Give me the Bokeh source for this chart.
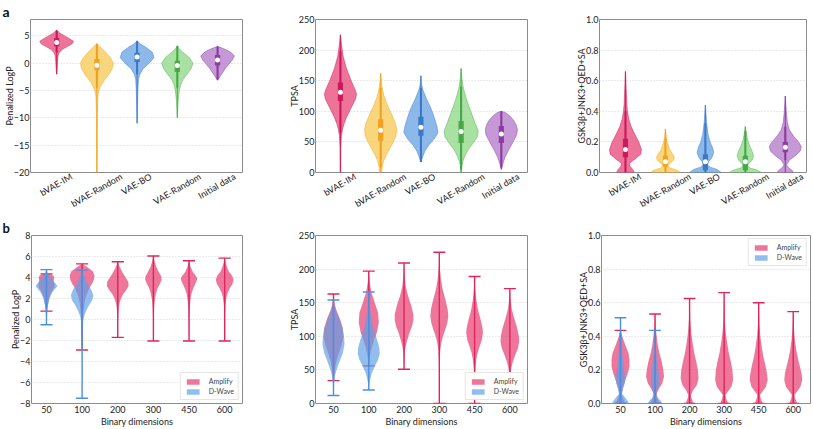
import math
from bokeh.plotting import figure
from bokeh.models import (ColumnDataSource, FixedTicker, Range1d,
                          Legend, LegendItem, NumeralTickFormatter)
from bokeh.layouts import column, row
from bokeh.embed import file_html
from bokeh.resources import INLINE

FONT = "Lato"

# ======================= panel a : five generators =======================
methods = ["bVAE-IM", "bVAE-Random", "VAE-BO", "VAE-Random", "Initial data"]
method_fill = ["#E8507E", "#F8CC5A", "#6FA7E3", "#93D98B", "#B77ECC"]
method_line = ["#D11E5A", "#F2A71E", "#3D7ED0", "#49B04A", "#8E41AA"]
method_box = ["#C8185A", "#F0A020", "#3A77C4", "#45A746", "#8A3A9F"]

# Penalized LogP : violin profile (value levels, half widths in category units)
logp_a_levels = [
    [6.1, 5.5, 5.0, 4.5, 4.0, 3.5, 3.0, 2.5, 2.0, 1.5, 1.0, 0.0, -1.0, -2.0],
    [3.6, 3.0, 2.0, 1.0, 0.0, -1.0, -2.0, -3.0, -4.0, -5.0, -6.0, -8.0, -12.0, -20.0],
    [4.1, 3.5, 3.0, 2.0, 1.0, 0.0, -1.0, -2.0, -3.0, -5.0, -8.0, -11.0],
    [3.2, 2.5, 2.0, 1.0, 0.0, -1.0, -2.0, -3.0, -4.0, -5.0, -7.0, -10.0],
    [3.1, 2.5, 2.0, 1.3, 0.5, 0.0, -1.0, -2.0, -2.7, -3.1],
]
logp_a_widths = [
    [0.0, 0.08, 0.2, 0.32, 0.42, 0.38, 0.25, 0.14, 0.07, 0.04, 0.03, 0.02, 0.015, 0.0],
    [0.0, 0.08, 0.22, 0.34, 0.41, 0.38, 0.3, 0.2, 0.11, 0.05, 0.025, 0.015, 0.01, 0.005],
    [0.0, 0.08, 0.2, 0.38, 0.42, 0.3, 0.15, 0.07, 0.035, 0.02, 0.01, 0.0],
    [0.0, 0.06, 0.14, 0.3, 0.39, 0.34, 0.24, 0.14, 0.08, 0.05, 0.02, 0.0],
    [0.0, 0.2, 0.33, 0.42, 0.36, 0.3, 0.19, 0.1, 0.04, 0.0],
]
logp_a_q1 = [3.1, -1.3, 0.2, -1.6, -0.4]
logp_a_med = [3.8, -0.35, 1.15, -0.4, 0.6]
logp_a_q3 = [4.6, 0.75, 1.9, 0.45, 1.5]
logp_a_wlo = [2.0, -4.5, -2.0, -4.5, -3.0]
logp_a_whi = [5.9, 3.5, 4.0, 3.1, 3.0]
logp_a_ticks = [-20, -15, -10, -5, 0, 5]

# TPSA
tpsa_a_levels = [
    [225, 210, 190, 170, 150, 135, 128, 120, 110, 100, 90, 80, 70, 60, 40, 0],
    [162, 150, 140, 125, 110, 95, 80, 70, 60, 50, 40, 30, 20, 10, 0],
    [158, 145, 135, 120, 105, 90, 75, 65, 55, 45, 35, 25, 17],
    [170, 155, 140, 125, 110, 95, 80, 68, 58, 48, 38, 28, 18, 10, 0],
    [100, 98, 92, 85, 78, 70, 62, 55, 45, 35, 25, 15, 5],
]
tpsa_a_widths = [
    [0, .025, .067, .15, .267, .367, .40, .375, .30, .225, .15, .092, .05, .025, .008, .004],
    [0, .017, .033, .083, .167, .275, .367, .40, .383, .317, .233, .15, .083, .042, .025],
    [0, .017, .05, .142, .25, .333, .40, .425, .333, .20, .10, .042, 0],
    [0, .017, .05, .108, .183, .267, .35, .425, .40, .30, .183, .10, .042, .017, .008],
    [0, .10, .217, .308, .367, .40, .383, .333, .25, .167, .092, .042, 0],
]
tpsa_a_q1 = [117, 52, 60, 48, 48]
tpsa_a_med = [131, 69, 74, 67, 63]
tpsa_a_q3 = [147, 87, 91, 84, 76]
tpsa_a_wlo = [65, 8, 17, 5, 8]
tpsa_a_whi = [198, 138, 138, 140, 100]
tpsa_a_ticks = [0, 50, 100, 150, 200, 250]

# GSK3b+JNK3+QED+SA
score_a_levels = [
    [0.66, 0.55, 0.45, 0.4, 0.35, 0.3, 0.25, 0.2, 0.15, 0.12, 0.09, 0.06, 0.04, 0.02, 0.0],
    [0.285, 0.25, 0.2, 0.15, 0.12, 0.1, 0.08, 0.06, 0.045, 0.03, 0.015, 0.0],
    [0.44, 0.38, 0.32, 0.25, 0.2, 0.16, 0.13, 0.1, 0.07, 0.05, 0.035, 0.02, 0.0],
    [0.3, 0.26, 0.22, 0.18, 0.14, 0.11, 0.08, 0.06, 0.045, 0.03, 0.015, 0.0],
    [0.5, 0.4, 0.33, 0.28, 0.24, 0.2, 0.17, 0.14, 0.11, 0.08, 0.05, 0.03, 0.015, 0.0],
]
score_a_widths = [
    [0, .017, .033, .05, .083, .142, .233, .333, .40, .383, .25, .10, .117, .183, .225],
    [0, .017, .042, .108, .183, .225, .20, .117, .058, .117, .292, .375],
    [0, .017, .033, .067, .117, .183, .208, .167, .083, .05, .125, .292, .40],
    [0, .025, .05, .10, .167, .208, .167, .092, .05, .117, .30, .40],
    [0, .025, .05, .10, .20, .333, .40, .375, .25, .10, .033, .083, .167, .20],
]
score_a_q1 = [0.10, 0.037, 0.015, 0.015, 0.133]
score_a_med = [0.15, 0.071, 0.07, 0.07, 0.165]
score_a_q3 = [0.22, 0.11, 0.12, 0.11, 0.20]
score_a_wlo = [0.0, 0.0, 0.0, 0.0, 0.08]
score_a_whi = [0.40, 0.22, 0.32, 0.27, 0.30]
score_ticks = [0.0, 0.2, 0.4, 0.6, 0.8, 1.0]

# ======================= panel b : binary dimensions =======================
dims = ["50", "100", "200", "300", "450", "600"]
amp_fill, amp_line = "#E8507E", "#E0245E"
dw_fill, dw_line = "#5E9FE6", "#4A90E2"

logp_amp_levels = [
    [4.35, 4.2, 4.0, 3.7, 3.4, 3.1, 2.8, 2.4, 2.0, 1.6, 1.2, 0.8],
    [5.3, 5.0, 4.6, 4.2, 3.8, 3.4, 3.0, 2.5, 2.0, 1.5, 1.0, 0.0, -1.0, -2.0, -2.9],
    [5.5, 5.0, 4.5, 4.0, 3.6, 3.2, 2.8, 2.4, 2.0, 1.5, 1.0, 0.0, -1.7],
    [6.05, 5.5, 5.0, 4.5, 4.1, 3.8, 3.4, 3.0, 2.5, 2.0, 1.5, 1.0, 0.0, -2.05],
    [5.6, 5.0, 4.5, 4.2, 3.9, 3.6, 3.2, 2.8, 2.4, 2.0, 1.5, 1.0, 0.0, -2.05],
    [5.85, 5.2, 4.6, 4.2, 3.8, 3.4, 3.0, 2.6, 2.2, 1.8, 1.2, 0.5, -2.05],
]
logp_amp_widths = [
    [.09, .19, .22, .2, .22, .23, .17, .11, .07, .05, .03, 0],
    [0, .14, .30, .35, .33, .28, .20, .14, .093, .065, .046, .028, .019, .009, 0],
    [0, .056, .13, .22, .296, .305, .24, .148, .093, .046, .028, .009, 0],
    [0, .037, .083, .157, .222, .231, .185, .12, .074, .046, .028, .019, .009, 0],
    [0, .046, .111, .185, .231, .204, .148, .102, .065, .046, .028, .019, .009, 0],
    [0, .046, .111, .204, .25, .222, .148, .093, .056, .037, .019, .009, 0],
]
logp_dw_levels = [
    [4.75, 4.3, 3.8, 3.4, 3.2, 3.0, 2.6, 2.2, 1.8, 1.4, 1.0, 0.5, 0.0, -0.5],
    [4.7, 4.3, 3.8, 3.3, 2.8, 2.3, 1.8, 1.3, 0.8, 0.3, -0.2, -1.0, -2.0, -4.0, -7.5],
]
logp_dw_widths = [
    [0, .056, .167, .26, .305, .26, .167, .11, .074, .046, .028, .019, .009, 0],
    [0, .037, .093, .167, .26, .315, .28, .185, .11, .056, .028, .019, .009, .005, 0],
]
logp_b_ticks = [-8, -6, -4, -2, 0, 2, 4, 6, 8]

tpsa_amp_levels = [
    [163, 150, 140, 125, 112, 100, 88, 75, 62, 50, 40, 34],
    [197, 180, 165, 150, 135, 120, 105, 95, 85, 75, 65, 56],
    [209, 190, 175, 160, 145, 132, 125, 115, 105, 95, 85, 75, 65, 51],
    [225, 200, 185, 170, 155, 140, 130, 120, 110, 100, 90, 80, 60, 40, 0],
    [189, 170, 155, 140, 125, 112, 105, 95, 85, 75, 65, 55, 45, 30, 0],
    [171, 155, 140, 125, 112, 100, 92, 82, 72, 62, 52, 42, 30, 20],
]
tpsa_amp_widths = [
    [0, .028, .076, .19, .265, .284, .237, .152, .076, .038, .019, 0],
    [0, .028, .076, .17, .265, .284, .227, .152, .095, .047, .019, 0],
    [0, .019, .047, .114, .208, .265, .265, .227, .152, .095, .047, .019, .009, 0],
    [0, .019, .047, .095, .17, .237, .256, .227, .17, .104, .057, .028, .009, .005, 0],
    [0, .019, .047, .095, .17, .227, .237, .208, .142, .085, .047, .028, .009, .005, 0],
    [0, .019, .057, .133, .208, .256, .265, .227, .152, .085, .038, .019, .009, 0],
]
tpsa_dw_levels = [
    [154, 140, 125, 110, 98, 88, 75, 62, 50, 40, 30, 20, 12],
    [166, 150, 135, 120, 105, 92, 82, 74, 65, 55, 45, 35, 25, 20],
]
tpsa_dw_widths = [
    [0, .047, .17, .265, .303, .3125, .265, .17, .085, .038, .019, .009, 0],
    [0, .019, .047, .095, .17, .256, .303, .3125, .265, .17, .085, .038, .009, 0],
]
tpsa_b_ticks = [0, 50, 100, 150, 200, 250]

score_amp_levels = [
    [0.435, 0.4, 0.35, 0.3, 0.26, 0.22, 0.18, 0.14, 0.1, 0.07, 0.05, 0.03, 0.0],
    [0.533, 0.45, 0.4, 0.35, 0.3, 0.25, 0.2, 0.16, 0.12, 0.09, 0.06, 0.04, 0.02, 0.0],
    [0.625, 0.5, 0.42, 0.36, 0.3, 0.25, 0.2, 0.15, 0.11, 0.08, 0.05, 0.03, 0.0],
    [0.66, 0.5, 0.42, 0.36, 0.3, 0.25, 0.2, 0.14, 0.1, 0.07, 0.05, 0.03, 0.0],
    [0.6, 0.48, 0.4, 0.34, 0.28, 0.23, 0.18, 0.14, 0.1, 0.07, 0.05, 0.03, 0.0],
    [0.547, 0.45, 0.38, 0.32, 0.27, 0.22, 0.18, 0.14, 0.1, 0.07, 0.05, 0.03, 0.0],
]
score_amp_widths = [
    [0, .048, .135, .23, .26, .26, .21, .144, .077, .048, .038, .077, .135],
    [0, .019, .048, .077, .125, .192, .24, .26, .21, .115, .048, .058, .096, .115],
    [0, .019, .048, .087, .135, .192, .24, .26, .21, .106, .038, .058, .115],
    [0, .019, .048, .087, .135, .192, .24, .26, .21, .106, .038, .058, .115],
    [0, .019, .048, .087, .135, .192, .24, .26, .21, .106, .038, .058, .115],
    [0, .019, .048, .087, .135, .192, .24, .26, .21, .106, .038, .058, .115],
]
score_dw_levels = [
    [0.51, 0.45, 0.4, 0.35, 0.3, 0.25, 0.2, 0.15, 0.12, 0.09, 0.06, 0.04, 0.02, 0.0],
    [0.435, 0.38, 0.32, 0.26, 0.2, 0.15, 0.11, 0.08, 0.05, 0.03, 0.015, 0.0],
]
score_dw_widths = [
    [0, .01, .019, .029, .048, .077, .106, .135, .125, .077, .038, .115, .192, .25],
    [0, .01, .029, .058, .096, .125, .115, .067, .038, .096, .173, .21],
]

ROW_A_H, ROW_B_H = 216, 213
LABEL_PX = 9
ANGLE = math.radians(30)


# ======================= helpers =======================
def style_axis(ax):
    ax.axis_line_color = None
    ax.major_tick_line_color = None
    ax.minor_tick_line_color = None
    ax.major_tick_out = 0
    ax.major_tick_in = 0
    ax.minor_tick_out = 0
    ax.minor_tick_in = 0
    ax.major_label_text_font = FONT
    ax.major_label_text_font_size = f"{LABEL_PX}px"
    ax.major_label_text_color = "#222222"
    ax.axis_label_text_font = FONT
    ax.axis_label_text_font_size = f"{LABEL_PX}px"
    ax.axis_label_text_font_style = "normal"
    ax.axis_label_text_color = "#222222"
    ax.major_label_standoff = 1
    ax.axis_label_standoff = 0


def base_fig(width, height, xr, yr, left, right, top, bottom, ylabel, yticks):
    p = figure(width=width, height=height, output_backend="svg",
               toolbar_location=None, x_range=Range1d(*xr), y_range=Range1d(*yr),
               min_border_left=left, min_border_right=right,
               min_border_top=top, min_border_bottom=bottom)
    p.background_fill_color = "white"
    p.border_fill_color = "white"
    p.outline_line_color = "#8c8c8c"
    p.outline_line_width = 1
    p.xgrid.visible = False
    p.ygrid.grid_line_color = "#d4d4d4"
    p.ygrid.grid_line_dash = "1 2"
    p.ygrid.ticker = FixedTicker(ticks=yticks)
    style_axis(p.xaxis[0])
    style_axis(p.yaxis[0])
    p.yaxis.axis_label_standoff = -4
    p.yaxis.ticker = FixedTicker(ticks=yticks)
    p.yaxis.axis_label = ylabel
    return p


def panel_letter(p, letter, size, offset, standoff):
    p.title.text = letter
    p.title.text_font = FONT
    p.title.text_font_size = size
    p.title.text_font_style = "bold"
    p.title.text_color = "#111111"
    p.title.align = "left"
    p.title.offset = offset
    p.title.standoff = standoff


def text_em(s):
    # rough advance widths (in em) used to centre rotated category labels
    w = 0.0
    for ch in s:
        if ch in "iltI -fj":
            w += 0.25
        elif ch in "mMW":
            w += 0.85
        elif ch.isupper():
            w += 0.65
        else:
            w += 0.52
    return w


def violin_shapes(levels, widths):
    xs, ys = [], []
    for i, (lv, hw) in enumerate(zip(levels, widths)):
        xs.append([i + w for w in hw] + [i - w for w in reversed(hw)])
        ys.append(list(lv) + list(reversed(lv)))
    return xs, ys


def panel_a(p, levels, widths, q1, med, q3, wlo, whi, frame_px):
    xs, ys = violin_shapes(levels, widths)
    src = ColumnDataSource(dict(xs=xs, ys=ys, fill=method_fill, line=method_line))
    p.patches("xs", "ys", source=src, fill_color="fill", fill_alpha=0.8,
              line_color="line", line_alpha=0.6, line_width=0.8)
    idx = list(range(len(levels)))
    tops = [lv[0] for lv in levels]
    bots = [lv[-1] for lv in levels]
    p.segment(x0=idx, y0=bots, x1=idx, y1=tops, line_color=method_line,
              line_width=1.2, line_alpha=0.9)
    p.segment(x0=idx, y0=wlo, x1=idx, y1=whi, line_color=method_box, line_width=2)
    p.vbar(x=idx, bottom=q1, top=q3, width=0.13, fill_color=method_box,
           line_color=None, fill_alpha=0.95)
    p.scatter(x=idx, y=med, size=5, fill_color="white", line_color=None)
    # rotated category labels, centred under each violin (as in matplotlib)
    span = p.x_range.end - p.x_range.start
    ppu = frame_px / span
    ticks, overrides = [], {}
    for i, name in enumerate(methods):
        shift = text_em(name) * LABEL_PX * math.cos(ANGLE) / 2 / ppu
        t = round(i + shift, 4)
        ticks.append(t)
        overrides[t] = name
    p.xaxis.ticker = FixedTicker(ticks=ticks)
    p.xaxis.major_label_overrides = overrides
    p.xaxis.major_label_orientation = ANGLE
    p.xaxis.major_label_standoff = 3


def panel_b(p, amp_levels, amp_widths, dw_levels, dw_widths, loc):
    renderers = []
    for levels, widths, fill, line, alpha in (
            (amp_levels, amp_widths, amp_fill, amp_line, 0.78),
            (dw_levels, dw_widths, dw_fill, dw_line, 0.68)):
        xs, ys = violin_shapes(levels, widths)
        r = p.patches(xs, ys, fill_color=fill, fill_alpha=alpha, line_color=None)
        renderers.append(r)
        idx = list(range(len(levels)))
        tops = [lv[0] for lv in levels]
        bots = [lv[-1] for lv in levels]
        p.segment(x0=idx, y0=bots, x1=idx, y1=tops, line_color=line, line_width=1.4)
        cap = 0.17
        p.segment(x0=[i - cap for i in idx], y0=tops, x1=[i + cap for i in idx], y1=tops,
                  line_color=line, line_width=1.4)
        p.segment(x0=[i - cap for i in idx], y0=bots, x1=[i + cap for i in idx], y1=bots,
                  line_color=line, line_width=1.4)
    p.xaxis.ticker = FixedTicker(ticks=list(range(len(dims))))
    p.xaxis.major_label_overrides = {i: d for i, d in enumerate(dims)}
    p.xaxis.axis_label = "Binary dimensions"
    p.xaxis.major_label_standoff = 2
    p.xaxis.axis_label_standoff = 0
    legend = Legend(items=[LegendItem(label="Amplify", renderers=[renderers[0]]),
                           LegendItem(label="D-Wave", renderers=[renderers[1]])],
                    location=loc)
    legend.label_text_font = FONT
    legend.label_text_font_size = "7px"
    legend.label_height = 8
    legend.glyph_height = 7
    legend.glyph_width = 16
    legend.label_standoff = 8
    legend.spacing = 2
    legend.padding = 4
    legend.margin = 3
    legend.border_line_color = "#cccccc"
    legend.background_fill_alpha = 0.95
    p.add_layout(legend)


# ======================= figures =======================
A_TOP, A_BOT = 16, 44
a1 = base_fig(270, ROW_A_H, (-0.65, 4.62), (-20, 8), 30, 28, A_TOP, A_BOT,
              "Penalized LogP", logp_a_ticks)
panel_a(a1, logp_a_levels, logp_a_widths, logp_a_q1, logp_a_med, logp_a_q3,
        logp_a_wlo, logp_a_whi, 270 - 30 - 28)
panel_letter(a1, "a", "14px", -28, 0)

a2 = base_fig(270, ROW_A_H, (-0.62, 4.65), (0, 250), 45, 13, A_TOP, A_BOT,
              "TPSA", tpsa_a_ticks)
panel_a(a2, tpsa_a_levels, tpsa_a_widths, tpsa_a_q1, tpsa_a_med, tpsa_a_q3,
        tpsa_a_wlo, tpsa_a_whi, 270 - 45 - 13)

a3 = base_fig(273, ROW_A_H, (-0.65, 4.53), (0, 1.0), 59, 7, A_TOP, A_BOT,
              "GSK3β+JNK3+QED+SA", score_ticks)
a3.yaxis.formatter = NumeralTickFormatter(format="0.0")
panel_a(a3, score_a_levels, score_a_widths, score_a_q1, score_a_med, score_a_q3,
        score_a_wlo, score_a_whi, 273 - 59 - 7)

B_TOP, B_BOT = 19, 23
b1 = base_fig(270, ROW_B_H, (-0.42, 5.5), (-8, 8), 31, 28, B_TOP, B_BOT,
              "Penalized LogP", logp_b_ticks)
panel_b(b1, logp_amp_levels, logp_amp_widths, logp_dw_levels, logp_dw_widths, "bottom_right")
panel_letter(b1, "b", "13px", -29, 0)

b2 = base_fig(270, ROW_B_H, (-0.51, 5.5), (0, 250), 45, 13, B_TOP, B_BOT,
              "TPSA", tpsa_b_ticks)
panel_b(b2, tpsa_amp_levels, tpsa_amp_widths, tpsa_dw_levels, tpsa_dw_widths, "bottom_right")

b3 = base_fig(273, ROW_B_H, (-0.55, 5.5), (0, 1.0), 61, 3, B_TOP, B_BOT,
              "GSK3β+JNK3+QED+SA", score_ticks)
b3.yaxis.formatter = NumeralTickFormatter(format="0.0")
panel_b(b3, score_amp_levels, score_amp_widths, score_dw_levels, score_dw_widths, "top_right")

layout = column(row(a1, a2, a3), row(b1, b2, b3))
open("out.html", "w").write(file_html(layout, INLINE))
